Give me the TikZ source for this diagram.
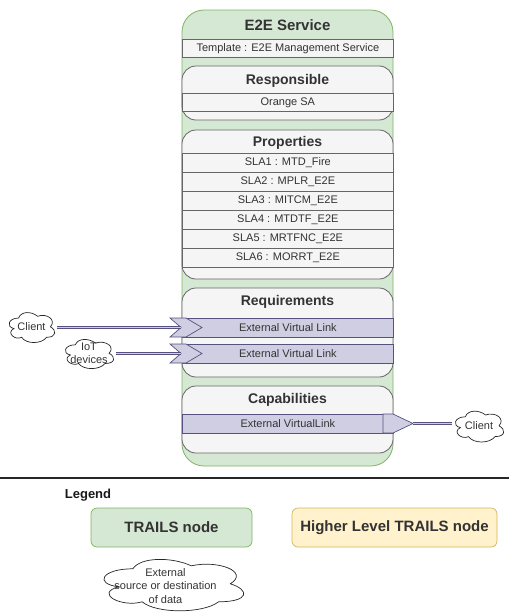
\documentclass[tikz,border=0pt]{standalone}
\usepackage{fontspec}
\setmainfont{Liberation Sans}
\usetikzlibrary{calc}
\definecolor{trailfill}{HTML}{D5E8D4}
\definecolor{traildraw}{HTML}{82B366}
\definecolor{boxfill}{HTML}{F5F5F5}
\definecolor{boxdraw}{HTML}{666666}
\definecolor{linkfill}{HTML}{D0CEE2}
\definecolor{linkdraw}{HTML}{56517E}
\definecolor{hlfill}{HTML}{FFF2CC}
\definecolor{hldraw}{HTML}{D6B656}
\definecolor{txt}{HTML}{333333}

% cloud outline fitted to the box of a named node: #1 node, #2 width, #3 height
\newcommand\cloudround[3]{%
  \draw[cloudline, shift={(#1.north west)}, x=#2pt, y=-#3pt]
    (0.25,0.25) .. controls (0.05,0.25) and (0,0.5) .. (0.16,0.55)
    .. controls (0,0.66) and (0.18,0.9) .. (0.31,0.8)
    .. controls (0.4,1) and (0.7,1) .. (0.8,0.8)
    .. controls (1,0.8) and (1,0.6) .. (0.875,0.5)
    .. controls (1,0.3) and (0.8,0.1) .. (0.625,0.2)
    .. controls (0.5,0.05) and (0.3,0.05) .. (0.25,0.25) -- cycle;}

\tikzset{
  every node/.style={text=txt, inner sep=0pt},
  container/.style={draw=traildraw, fill=trailfill, rounded corners=22pt, line width=0.8pt},
  block/.style={draw=boxdraw, fill=boxfill, rounded corners=14pt, line width=0.8pt},
  rowbox/.style={draw=boxdraw, fill=boxfill, line width=0.7pt, anchor=north west,
    minimum width=211pt, minimum height=19pt, font=\fontsize{11}{13}\selectfont},
  linkbox/.style={draw=linkdraw, fill=linkfill, line width=0.7pt, anchor=north west,
    minimum width=211pt, minimum height=19pt, font=\fontsize{11}{13}\selectfont},
  linkshape/.style={draw=linkdraw, fill=linkfill, line width=0.7pt},
  title/.style={font=\bfseries\fontsize{14}{16}\selectfont},
  cloudline/.style={draw=black!85, line width=0.7pt},
  cloudtext/.style={font=\fontsize{11}{13.5}\selectfont, align=center},
  linkline/.style={draw=linkdraw, double=linkfill, double distance=1.2pt, line width=0.8pt},
  legendbox/.style={rounded corners=6pt, line width=0.7pt, minimum width=161pt,
    minimum height=39pt, font=\bfseries\fontsize{15}{17}\selectfont},
}

\begin{document}
\begin{tikzpicture}[x=1pt, y=-1pt]
\useasboundingbox (0,0) rectangle (509,613);

% service container
\path[container] (182,10) rectangle (393,466);
\node[font=\bfseries\fontsize{15}{17}\selectfont] (svc) at (287.5,25) {E2E Service};
\node[rowbox, minimum height=18pt] (tmpl) at (182,39) {Template : E2E Management Service};

% responsible
\path[block] (182,66) rectangle (393,120);
\node[title] (resp) at (287.5,81) {Responsible};
\node[rowbox, minimum height=18pt] (owner) at (182,93) {Orange SA};

% properties
\path[block] (182,130) rectangle (393,279);
\node[title] (props) at (287.5,143) {Properties};
\node[rowbox] (sla1) at (182,153) {SLA1 : MTD\_Fire};
\node[rowbox] (sla2) at (182,172) {SLA2 : MPLR\_E2E};
\node[rowbox] (sla3) at (182,191) {SLA3 : MITCM\_E2E};
\node[rowbox] (sla4) at (182,210) {SLA4 : MTDTF\_E2E};
\node[rowbox] (sla5) at (182,229) {SLA5 : MRTFNC\_E2E};
\node[rowbox] (sla6) at (182,248) {SLA6 : MORRT\_E2E};

% requirements
\path[block] (182,288) rectangle (393,377);
\node[title] (reqs) at (287.5,302) {Requirements};
\node[linkbox] (req1) at (182,318) {External Virtual Link};
\node[linkbox] (req2) at (182,344) {External Virtual Link};
\path[linkshape] (170,318) -- (186,318) -- (202,327.5) -- (186,337) -- (170,337) -- (181,327.5) -- cycle;
\path[linkshape] (170,344) -- (186,344) -- (202,353.5) -- (186,363) -- (170,363) -- (181,353.5) -- cycle;
\coordinate (req1in) at (181,327.5);
\coordinate (req2in) at (181,353.5);

% capabilities
\path[block] (182,386) rectangle (393,453);
\node[title] (caps) at (287.5,400) {Capabilities};
\node[linkbox] (cap1) at (182,414) {External VirtualLink};
\path[linkshape] (383,414) -- (393,414) -- (413,423.5) -- (393,433) -- (383,433) -- cycle;
\coordinate (cap1out) at (413,423.5);

% external parties
\node[cloudtext, minimum width=51pt, minimum height=35pt] (cliL) at (31.5,327) {Client};
\cloudround{cliL}{51}{35}
\node[cloudtext, minimum width=54pt, minimum height=34pt] (iot) at (89,353.5) {IoT\\devices};
\cloudround{iot}{54}{34}
\node[cloudtext, minimum width=54pt, minimum height=36pt] (cliR) at (479,426) {Client};
\cloudround{cliR}{54}{36}

\draw[linkline] (cliL.east |- req1in) -- (req1in);
\draw[linkline] (iot.east |- req2in) -- (req2in);
\draw[linkline] (cap1out) -- (cap1out -| cliR.west);

% legend
\draw[line width=1.5pt, black!85] (0,478) -- (509,478);
\node[font=\bfseries\fontsize{13}{15}\selectfont, text=black!90] (legend) at (88,495) {Legend};
\node[legendbox, draw=traildraw, fill=trailfill] (legnode) at (171.5,527.5) {TRAILS node};
\node[legendbox, draw=hldraw, fill=hlfill, minimum width=205pt] (leghigh) at (394.5,527.5) {Higher Level TRAILS node};
\node[cloudtext, minimum width=156pt, minimum height=60pt] (legcloud) at (172,584) {};
\node[cloudtext] (legtext) at (165.5,586) {External\\source or destination\\of data};
\cloudround{legcloud}{156}{60}
\end{tikzpicture}
\end{document}
